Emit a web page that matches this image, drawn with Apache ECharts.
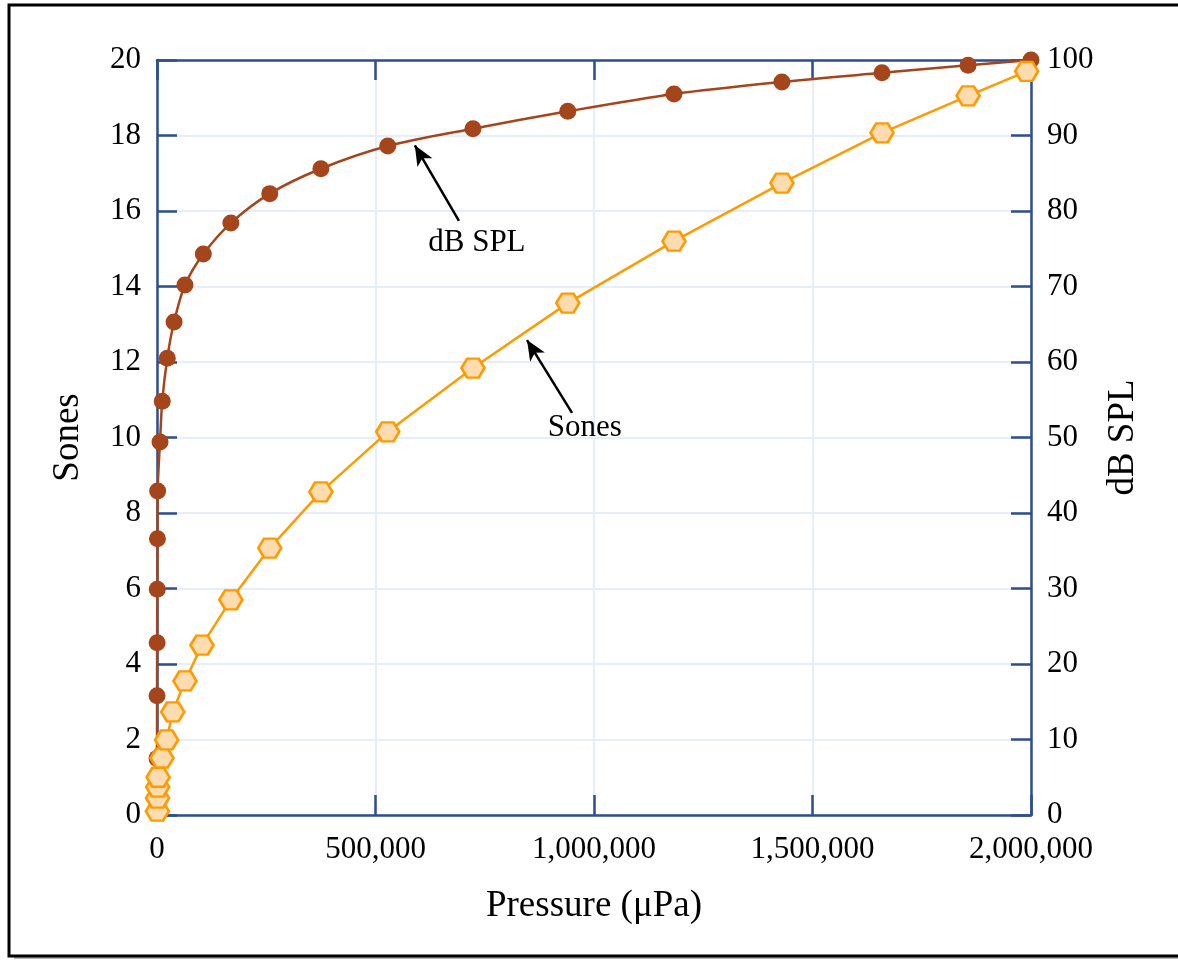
<!DOCTYPE html>
<html>
<head>
<meta charset="utf-8">
<script src="https://cdn.jsdelivr.net/npm/echarts@6/dist/echarts.min.js"></script>
<style>
html,body{margin:0;padding:0;background:#fff;}
#chart{width:1178px;height:961px;}
</style>
</head>
<body>
<div id="chart"></div>
<script>
// ---- Data ----
const dbPressure = [50, 100, 300, 600, 1000, 1500, 6900, 12000, 23500, 39000, 64000, 106000, 169000, 258000, 375000, 528000, 723000, 940000, 1183000, 1430000, 1659000, 1856000, 2000000];
const dbValues   = [7.5, 15.8, 22.8, 29.9, 36.6, 42.9, 49.4, 54.8, 60.5, 65.3, 70.2, 74.3, 78.4, 82.3, 85.6, 88.6, 90.9, 93.2, 95.5, 97.1, 98.3, 99.3, 100];
const sonePressure = [800, 1200, 1600, 2500, 11400, 22000, 36000, 64000, 103000, 169000, 258000, 375000, 528000, 723000, 940000, 1183000, 1430000, 1659000, 1856000, 1990000];
const soneValues   = [0.1, 0.45, 0.74, 1.0, 1.51, 1.99, 2.73, 3.55, 4.5, 5.7, 7.07, 8.56, 10.15, 11.84, 13.56, 15.2, 16.74, 18.07, 19.05, 19.7];
const xTicks = [0, 500000, 1000000, 1500000, 2000000];
const seriesNames = ['dB SPL', 'Sones'];
const axisTitles = {x: 'Pressure (\u03bcPa)', left: 'Sones', right: 'dB SPL'};
// annotation anchors (data coordinates)
const dbArrow = {from: [691000, 78.7], to: [590000, 88.7], text: [732000, 75.8]};
const soneArrow = {from: [949700, 10.65], to: [846700, 12.58], text: [979000, 10.25]};

const FONT = 'Liberation Serif';
const AXIS_COLOR = '#2e4e8f';
const GRID_COLOR = '#e6eefc';
const DB_COLOR = '#a5451b';
const SONE_COLOR = '#ff9a00';
const SONE_FILL = '#ffdcb0';

function commas(v){ return String(Math.round(v)).replace(/\B(?=(\d{3})+(?!\d))/g, ','); }

const hexagon = 'path://M-10,0 L-5,-8.66 L5,-8.66 L10,0 L5,8.66 L-5,8.66 Z';

const chart = echarts.init(document.getElementById('chart'), null, {renderer: 'canvas'});

const textLabel = (txt, coord) => ({
  coord: coord,
  symbol: 'rect', symbolSize: 1,
  itemStyle: {color: 'rgba(0,0,0,0)'},
  label: {show: true, position: 'inside', formatter: txt, fontFamily: FONT, fontSize: 31, color: '#000'}
});

const arrowLine = (a) => ({
  silent: true,
  symbol: ['none', 'arrow'],
  symbolSize: [13, 20],
  animation: false,
  label: {show: false},
  lineStyle: {color: '#000', width: 2.5, type: 'solid'},
  emphasis: {disabled: true},
  data: [[{coord: a.from}, {coord: a.to}]]
});

const option = {
  backgroundColor: '#fff',
  animation: false,
  graphic: [
    {type: 'rect', z: -10, shape: {x: 14, y: 10, width: 1200, height: 949}, style: {fill: '#b4b4b4'}},
    {type: 'rect', z: -9, shape: {x: 9, y: 5, width: 1200, height: 951}, style: {fill: '#fff', stroke: '#000', lineWidth: 3}}
  ],
  grid: {left: 157, right: 147, top: 60, bottom: 146, containLabel: false},
  xAxis: [
    {
      type: 'value', position: 'bottom', min: 0, max: 2000000, interval: 500000,
      name: axisTitles.x, nameLocation: 'middle', nameGap: 73,
      nameTextStyle: {fontFamily: FONT, fontSize: 37, color: '#000'},
      axisLine: {show: true, onZero: false, lineStyle: {color: AXIS_COLOR, width: 2.5}},
      axisTick: {show: true, inside: true, length: 20, lineStyle: {color: AXIS_COLOR, width: 2.5}},
      axisLabel: {fontFamily: FONT, fontSize: 31, color: '#000', margin: 19, formatter: commas},
      splitLine: {show: true, lineStyle: {color: GRID_COLOR, width: 2}}
    },
    {
      type: 'value', position: 'top', min: 0, max: 2000000, interval: 500000,
      axisLine: {show: true, onZero: false, lineStyle: {color: AXIS_COLOR, width: 2.5}},
      axisTick: {show: true, inside: true, length: 20, lineStyle: {color: AXIS_COLOR, width: 2.5}},
      axisLabel: {show: false},
      splitLine: {show: false}
    }
  ],
  yAxis: [
    {
      type: 'value', position: 'left', min: 0, max: 20, interval: 2,
      name: axisTitles.left, nameLocation: 'middle', nameGap: 70,
      nameTextStyle: {fontFamily: FONT, fontSize: 37, color: '#000'},
      axisLine: {show: true, onZero: false, lineStyle: {color: AXIS_COLOR, width: 2.5}},
      axisTick: {show: true, inside: true, length: 20, lineStyle: {color: AXIS_COLOR, width: 2.5}},
      axisLabel: {fontFamily: FONT, fontSize: 31, color: '#000', margin: 16},
      splitLine: {show: true, lineStyle: {color: GRID_COLOR, width: 2}}
    },
    {
      type: 'value', position: 'right', min: 0, max: 100, interval: 10,
      name: axisTitles.right, nameLocation: 'middle', nameGap: 72,
      nameTextStyle: {fontFamily: FONT, fontSize: 37, color: '#000'},
      axisLine: {show: true, onZero: false, lineStyle: {color: AXIS_COLOR, width: 2.5}},
      axisTick: {show: true, inside: true, length: 20, lineStyle: {color: AXIS_COLOR, width: 2.5}},
      axisLabel: {fontFamily: FONT, fontSize: 31, color: '#000', margin: 16},
      splitLine: {show: false}
    }
  ],
  series: [
    {
      name: seriesNames[0], type: 'line', xAxisIndex: 0, yAxisIndex: 1,
      data: dbPressure.map((p, i) => [p, dbValues[i]]),
      smooth: 0.3,
      symbol: 'circle', symbolSize: 17, showAllSymbol: true,
      lineStyle: {color: DB_COLOR, width: 2.5},
      itemStyle: {color: DB_COLOR, borderWidth: 0},
      z: 3,
      markLine: arrowLine(dbArrow),
      markPoint: {silent: true, animation: false, data: [textLabel(seriesNames[0], dbArrow.text)]}
    },
    {
      name: seriesNames[1], type: 'line', xAxisIndex: 0, yAxisIndex: 0,
      data: sonePressure.map((p, i) => [p, soneValues[i]]),
      symbol: hexagon, symbolSize: [23, 19], showAllSymbol: true,
      lineStyle: {color: SONE_COLOR, width: 2.5},
      itemStyle: {color: SONE_FILL, borderColor: SONE_COLOR, borderWidth: 2.5},
      z: 4,
      markLine: arrowLine(soneArrow),
      markPoint: {silent: true, animation: false, data: [textLabel(seriesNames[1], soneArrow.text)]}
    }
  ]
};
chart.setOption(option);
</script>
</body>
</html>
